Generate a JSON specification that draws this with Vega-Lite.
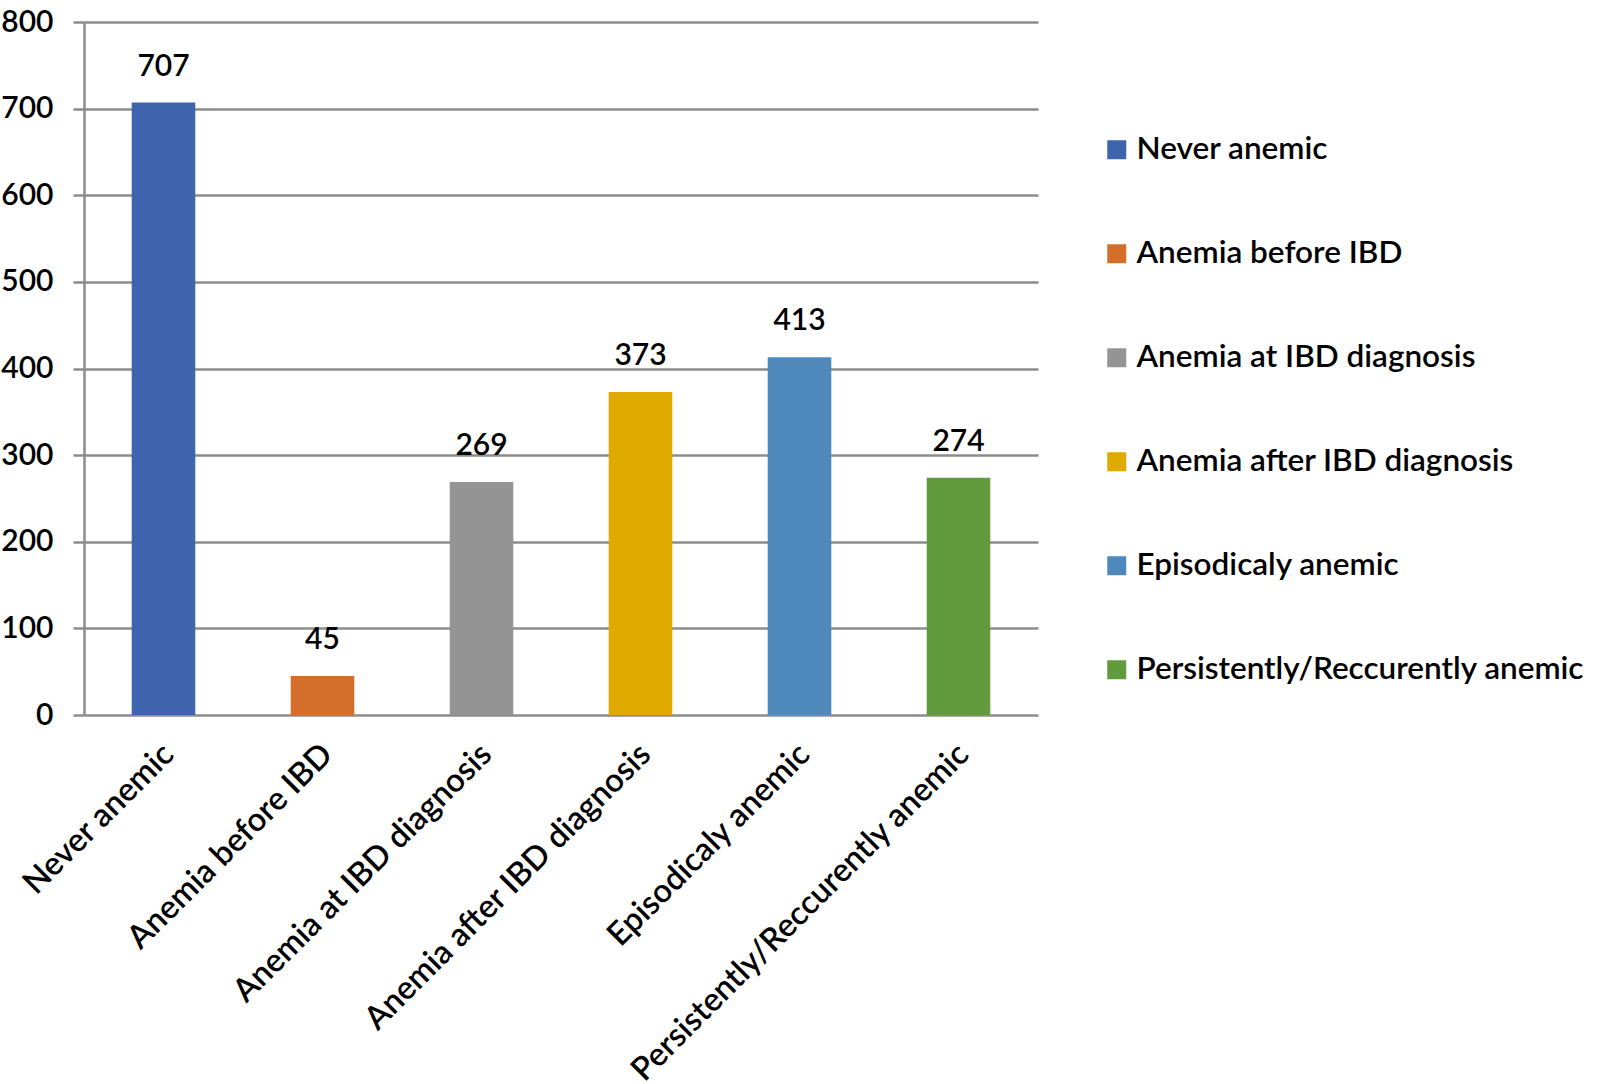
{
  "$schema": "https://vega.github.io/schema/vega-lite/v6.json",
  "width": 954,
  "height": 693,
  "autosize": {"type": "none"},
  "padding": {"left": 84, "top": 22, "right": 562, "bottom": 369},
  "background": "white",
  "data": {
    "values": [
      {"category": "Never anemic", "count": 707},
      {"category": "Anemia before IBD", "count": 45},
      {"category": "Anemia at IBD diagnosis", "count": 269},
      {"category": "Anemia after IBD diagnosis", "count": 373},
      {"category": "Episodicaly anemic", "count": 413},
      {"category": "Persistently/Reccurently anemic", "count": 274}
    ]
  },
  "config": {
    "font": "Lato",
    "view": {"stroke": null},
    "axis": {"labelFont": "Lato", "labelColor": "#000000", "labelFontSize": 30, "labelFontWeight": 600}
  },
  "encoding": {
    "x": {
      "field": "category",
      "type": "nominal",
      "sort": null,
      "scale": {"paddingInner": 0.6, "paddingOuter": 0.3},
      "axis": {
        "title": null,
        "labelAngle": -45,
        "labelAlign": "right",
        "labelBaseline": "middle",
        "labelFontSize": 32.5,
        "labelPadding": 34,
        "labelOffset": 5,
        "ticks": false,
        "domain": false,
        "labelLimit": 600
      }
    },
    "y": {
      "field": "count",
      "type": "quantitative",
      "scale": {"domain": [0, 800], "nice": false},
      "axis": {
        "title": null,
        "values": [0, 100, 200, 300, 400, 500, 600, 700, 800],
        "grid": true,
        "gridColor": "#8c8c8c",
        "gridWidth": 2.5,
        "tickColor": "#8c8c8c",
        "tickWidth": 2.5,
        "tickSize": 11,
        "domainColor": "#8c8c8c",
        "domainWidth": 2.5,
        "labelPadding": 20
      }
    }
  },
  "layer": [
    {
      "mark": {"type": "bar"},
      "encoding": {
        "color": {
          "field": "category",
          "type": "nominal",
          "sort": null,
          "scale": {
            "domain": ["Never anemic", "Anemia before IBD", "Anemia at IBD diagnosis", "Anemia after IBD diagnosis", "Episodicaly anemic", "Persistently/Reccurently anemic"],
            "range": ["#3e64ad", "#d46f2b", "#949494", "#e0a900", "#4f88bb", "#629a3e"]
          },
          "legend": {
            "title": null,
            "orient": "none",
            "legendX": 1017,
            "legendY": 112,
            "padding": 0,
            "symbolType": "square",
            "symbolSize": 361,
            "symbolStrokeWidth": 0,
            "labelFont": "Lato",
            "labelFontSize": 31.5,
            "labelFontWeight": 600,
            "labelColor": "#000000",
            "labelOffset": 4,
            "rowPadding": 71,
            "labelLimit": 600
          }
        }
      }
    },
    {
      "mark": {"type": "text", "baseline": "alphabetic", "dy": -27, "fontSize": 30, "fontWeight": 600, "font": "Lato", "color": "#000000"},
      "encoding": {"text": {"field": "count", "type": "quantitative"}}
    }
  ]
}
